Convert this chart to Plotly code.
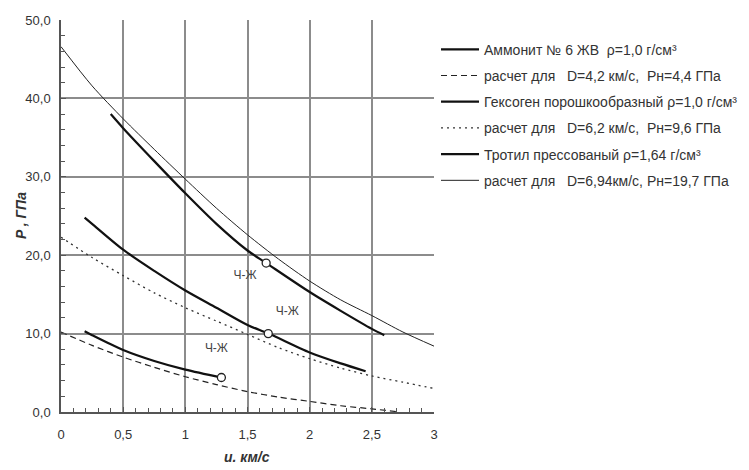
import plotly.graph_objects as go

# Data
u_calc69 = [0, 0.25, 0.5, 0.75, 1.0, 1.25, 1.5, 1.75, 2.0, 2.25, 2.5, 2.75, 3.0]
p_calc69 = [46.6, 41.6, 37.4, 33.5, 29.7, 26.0, 22.6, 19.5, 16.7, 14.3, 12.3, 10.2, 8.4]

u_trotil = [0.4, 0.5, 0.75, 1.0, 1.25, 1.5, 1.65, 2.0, 2.25, 2.5, 2.6]
p_trotil = [38.0, 36.2, 32.0, 27.9, 24.0, 20.6, 19.0, 15.3, 12.9, 10.6, 9.8]

u_geks = [0.19, 0.25, 0.5, 0.75, 1.0, 1.25, 1.5, 1.67, 2.0, 2.25, 2.45]
p_geks = [24.8, 24.0, 20.7, 18.0, 15.5, 13.3, 11.1, 10.0, 7.6, 6.2, 5.2]

u_calc62 = [0, 0.25, 0.5, 0.75, 1.0, 1.25, 1.5, 1.75, 2.0, 2.25, 2.5, 2.75, 3.0]
p_calc62 = [22.3, 19.7, 17.4, 15.2, 13.3, 11.6, 9.9, 8.2, 6.8, 5.6, 4.6, 3.8, 3.0]

u_ammonit = [0.19, 0.25, 0.5, 0.75, 1.0, 1.29]
p_ammonit = [10.3, 9.8, 7.9, 6.5, 5.4, 4.4]

u_calc42 = [0, 0.25, 0.5, 0.75, 1.0, 1.25, 1.5, 1.75, 2.0, 2.25, 2.5, 2.7]
p_calc42 = [10.2, 8.5, 7.0, 5.7, 4.5, 3.5, 2.6, 1.9, 1.35, 0.8, 0.4, 0.05]

# CJ points (markers)
u_cj = [1.29, 1.667, 1.65]
p_cj = [4.4, 10.0, 19.0]

# CJ labels
lbl_u = [1.48, 1.82, 1.25]
lbl_p = [17.4, 12.8, 8.1]
lbl_text = ["Ч-Ж", "Ч-Ж", "Ч-Ж"]

x_ticks = [0, 0.5, 1, 1.5, 2, 2.5, 3]
x_ticktext = ["0", "0,5", "1", "1,5", "2", "2,5", "3"]
y_ticks = [0, 10, 20, 30, 40, 50]
y_ticktext = ["0,0", "10,0", "20,0", "30,0", "40,0", "50,0"]

names = [
    "Аммонит № 6 ЖВ  ρ=1,0 г/см³",
    "расчет для   D=4,2 км/с,  Pн=4,4 ГПа",
    "Гексоген порошкообразный ρ=1,0 г/см³",
    "расчет для   D=6,2 км/с,  Pн=9,6 ГПа",
    "Тротил прессованый ρ=1,64 г/см³",
    "расчет для   D=6,94км/с, Pн=19,7 ГПа",
]

FONT = "Liberation Sans, Arial"

fig = go.Figure()
series = [
    (u_ammonit, p_ammonit, dict(color="#111111", width=2.2, dash="solid")),
    (u_calc42, p_calc42, dict(color="#222222", width=1.2, dash="6px,4px")),
    (u_geks, p_geks, dict(color="#111111", width=2.2, dash="solid")),
    (u_calc62, p_calc62, dict(color="#333333", width=1.3, dash="2px,4px")),
    (u_trotil, p_trotil, dict(color="#111111", width=2.2, dash="solid")),
    (u_calc69, p_calc69, dict(color="#222222", width=1.0, dash="solid")),
]
for i, (xs, ys, ln) in enumerate(series):
    fig.add_trace(go.Scatter(x=xs, y=ys, mode="lines", name=names[i],
                             line=dict(shape="spline", smoothing=0.8, **ln),
                             legendgroup=f"g{i}"))

fig.add_trace(go.Scatter(x=u_cj, y=p_cj, mode="markers", showlegend=False,
                         marker=dict(size=8, color="white",
                                     line=dict(color="#222222", width=1.3))))
fig.add_trace(go.Scatter(x=lbl_u, y=lbl_p, mode="text", text=lbl_text, showlegend=False,
                         textfont=dict(family=FONT, size=12, color="#444444")))

fig.update_layout(
    width=749, height=470,
    margin=dict(l=61, r=315, t=20, b=58, autoexpand=False),
    plot_bgcolor="white", paper_bgcolor="white",
    font=dict(family=FONT, size=12, color="#333333"),
    legend=dict(x=1.0054, xref="paper", xanchor="left", y=0.965, yanchor="top",
                font=dict(family=FONT, size=14, color="#333333"),
                tracegroupgap=5, itemwidth=38, bgcolor="rgba(0,0,0,0)"),
    annotations=[
        dict(text="<b><i>P , ГПа</i></b>", xref="paper", yref="paper",
             x=(21 - 61) / 373, y=0.5, textangle=-90, showarrow=False,
             xanchor="center", yanchor="middle",
             font=dict(family=FONT, size=14, color="#333333")),
        dict(text="<b><i>u. км/с</i></b>", xref="paper", yref="paper",
             x=(247 - 61) / 373, y=-(457 - 412) / 392, showarrow=False,
             xanchor="center", yanchor="middle",
             font=dict(family=FONT, size=14, color="#333333")),
    ],
)

fig.update_xaxes(range=[0, 3], tickvals=x_ticks, ticktext=x_ticktext,
                 showgrid=True, gridcolor="#8c8c8c", gridwidth=1.5,
                 showline=True, linecolor="#555555", linewidth=1.5,
                 ticks="inside", ticklen=5, tickcolor="#555555",
                 minor=dict(dtick=0.1, ticks="inside", ticklen=4, tickcolor="#555555", showgrid=False),
                 zeroline=False, tickfont=dict(size=13, color="#333333"),
                 ticklabelstandoff=10)
fig.update_yaxes(range=[0, 50], tickvals=y_ticks, ticktext=y_ticktext,
                 showgrid=True, gridcolor="#8c8c8c", gridwidth=1.5,
                 showline=True, linecolor="#555555", linewidth=1.5,
                 ticks="inside", ticklen=5, tickcolor="#555555",
                 minor=dict(dtick=2, ticks="inside", ticklen=4, tickcolor="#555555", showgrid=False),
                 zeroline=False, tickfont=dict(size=13, color="#333333"),
                 ticklabelstandoff=6)

fig.write_html("out.html")
